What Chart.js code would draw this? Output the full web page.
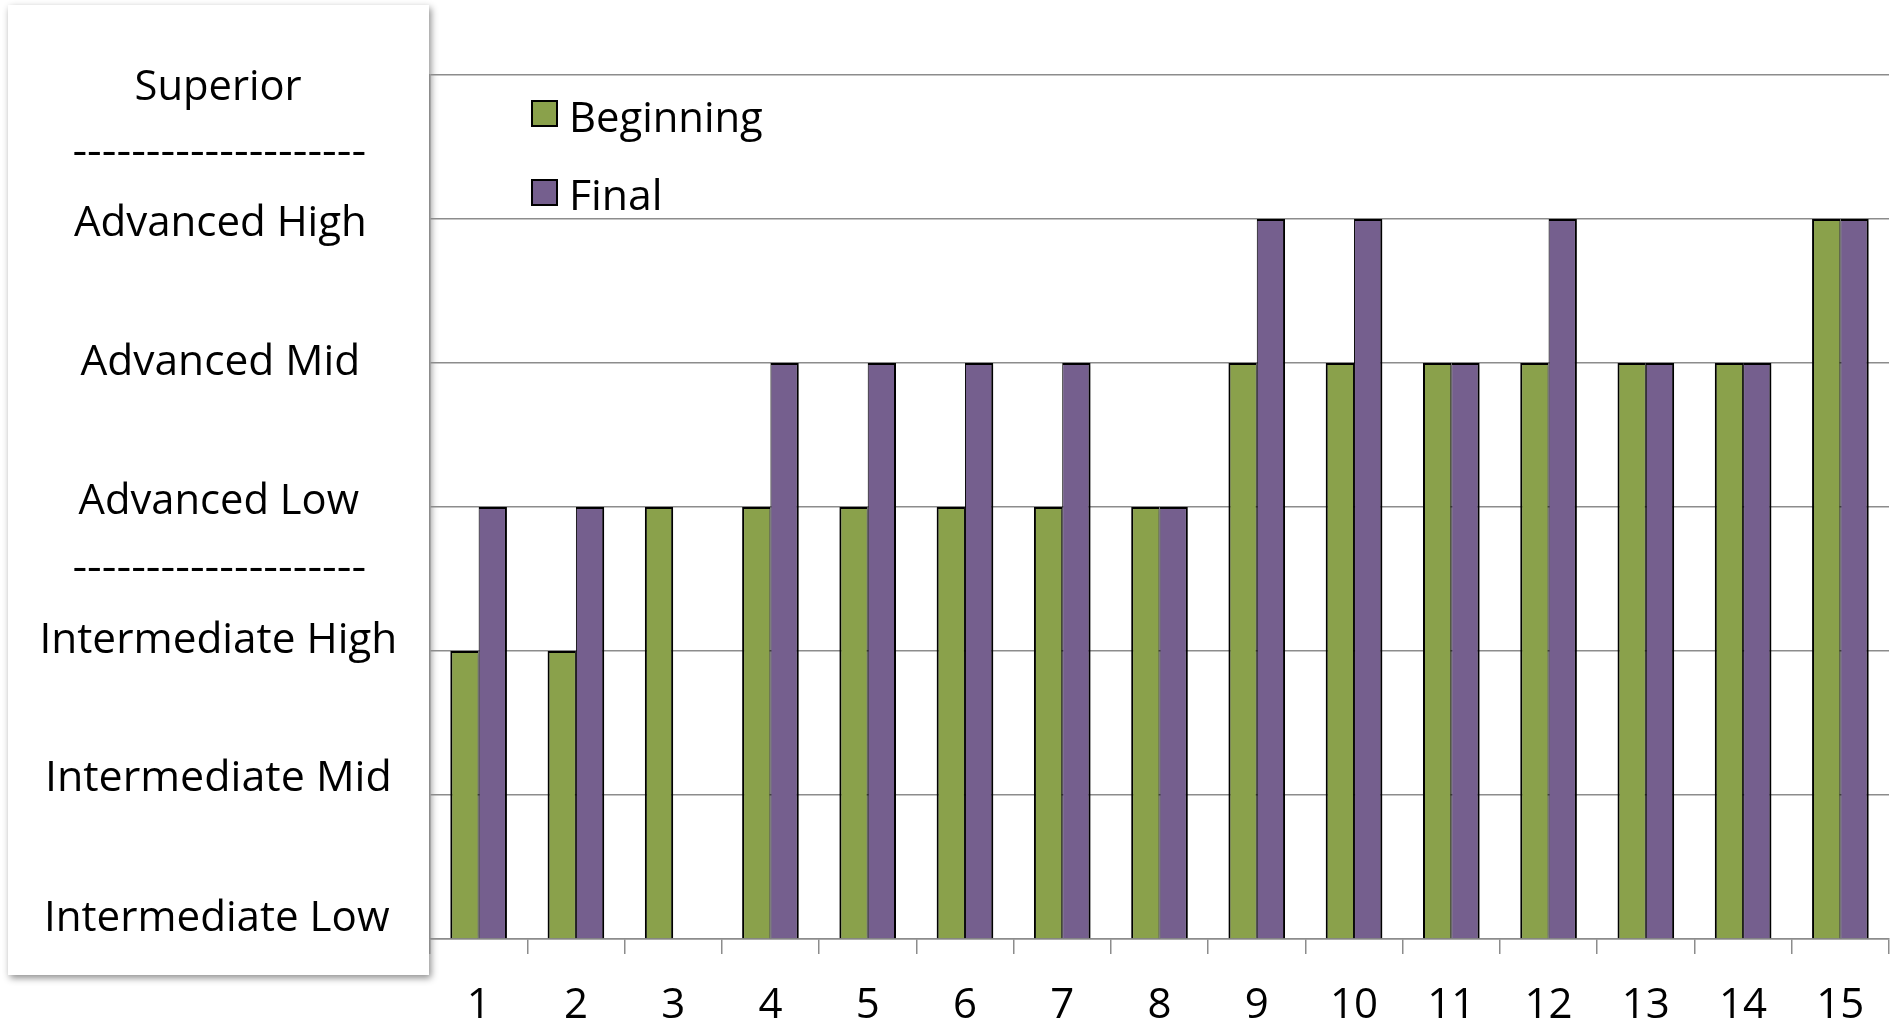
<!DOCTYPE html>
<html>
<head>
<meta charset="utf-8">
<script src="https://cdn.jsdelivr.net/npm/chart.js@4/dist/chart.umd.min.js"></script>
<style>
  html, body { margin: 0; padding: 0; background: #ffffff; }
  canvas { display: block; }
</style>
</head>
<body>
<canvas id="chart" width="1898" height="1029"></canvas>
<script>
// Students along the x axis
const students = ['1', '2', '3', '4', '5', '6', '7', '8', '9', '10', '11', '12', '13', '14', '15'];

// Proficiency levels, lowest first (value 0 = Intermediate Low)
const levelLabels = ['Intermediate Low', 'Intermediate Mid', 'Intermediate High',
                     'Advanced Low', 'Advanced Mid', 'Advanced High', 'Superior'];

// Series names and level reached by each student
const seriesNames = ['Beginning', 'Final'];
const beginning = [2, 2, 3, 3, 3, 3, 3, 3, 4, 4, 4, 4, 4, 4, 5];
const final     = [3, 3, null, 4, 4, 4, 4, 3, 5, 5, 4, 5, 4, 4, 5];

// ---- styling ----
const FONT = '"Open Sans", "Liberation Sans", sans-serif';
const GRID = '#8c8c8c';
const GREEN = '#8AA14B';
const PURPLE = '#755F8E';

// Level panel on the left: text rows (label or separator), baseline/centre y and ink width
const DASHES = '--------------------';
const panelRows = [
  { text: levelLabels[6], y: 100, w: 165 },
  { text: DASHES, yc: 153, w: 291 },
  { text: levelLabels[5], y: 236, w: 290 },
  { text: levelLabels[4], y: 375, w: 277 },
  { text: levelLabels[3], y: 514, w: 281 },
  { text: DASHES, yc: 569, w: 291 },
  { text: levelLabels[2], y: 653, w: 351 },
  { text: levelLabels[1], y: 791, w: 340 },
  { text: levelLabels[0], y: 931, w: 342 }
];
const PANEL = { x: 8, y: 5, w: 421, h: 970, cx: 219 };

function drawScaledText(ctx, text, x, baseline, inkWidth, centred) {
  const m = ctx.measureText(text);
  const ink = m.actualBoundingBoxLeft + m.actualBoundingBoxRight;
  const sx = inkWidth / ink;
  // offset of the ink box relative to the drawing origin
  const shift = centred ? (m.actualBoundingBoxRight - m.actualBoundingBoxLeft) / 2 : -m.actualBoundingBoxLeft;
  ctx.save();
  ctx.translate(x, baseline);
  ctx.scale(sx, 1);
  ctx.fillText(text, -shift, 0);
  ctx.restore();
}

const levelPanel = {
  id: 'levelPanel',
  beforeDraw(chart) {
    const ctx = chart.ctx;
    ctx.save();
    ctx.shadowColor = 'rgba(0,0,0,0.45)';
    ctx.shadowBlur = 7;
    ctx.shadowOffsetX = 2;
    ctx.shadowOffsetY = 3;
    ctx.fillStyle = '#ffffff';
    ctx.fillRect(PANEL.x, PANEL.y, PANEL.w, PANEL.h);
    ctx.restore();

    ctx.save();
    ctx.fillStyle = '#000000';
    ctx.font = '42px ' + FONT;
    ctx.textAlign = 'left';
    ctx.textBaseline = 'alphabetic';
    panelRows.forEach(r => {
      let base = r.y;
      if (base === undefined) {
        const m = ctx.measureText(r.text);
        base = r.yc - (m.actualBoundingBoxDescent - m.actualBoundingBoxAscent) / 2;
      }
      drawScaledText(ctx, r.text, PANEL.cx, base, r.w, true);
    });
    ctx.restore();
  }
};

// Bar shadows
const barShadow = {
  id: 'barShadow',
  beforeDatasetsDraw(chart) {
    const ctx = chart.ctx;
    ctx.save();
    ctx.shadowColor = 'rgba(0,0,0,0.30)';
    ctx.shadowBlur = 4;
    ctx.shadowOffsetX = 1;
    ctx.shadowOffsetY = 1;
  },
  afterDatasetsDraw(chart) {
    chart.ctx.restore();
  }
};

// Legend inside the plot area, one entry per row
const innerLegend = {
  id: 'innerLegend',
  afterDraw(chart) {
    const ctx = chart.ctx;
    const boxX = 531, boxSize = 27;
    const rows = [{ top: 100, base: 132, w: 189 }, { top: 179, base: 210, w: 87 }];
    ctx.save();
    ctx.font = '42px ' + FONT;
    ctx.textAlign = 'left';
    ctx.textBaseline = 'alphabetic';
    chart.data.datasets.forEach((ds, i) => {
      const r = rows[i];
      ctx.fillStyle = ds.backgroundColor;
      ctx.fillRect(boxX, r.top, boxSize, boxSize);
      ctx.strokeStyle = '#000000';
      ctx.lineWidth = 2;
      ctx.strokeRect(boxX + 1, r.top + 1, boxSize - 2, boxSize - 2);
      ctx.fillStyle = '#000000';
      drawScaledText(ctx, ds.label, 573, r.base, r.w, false);
    });
    ctx.restore();
  }
};

new Chart(document.getElementById('chart'), {
  type: 'bar',
  data: {
    labels: students,
    datasets: [
      {
        label: seriesNames[0],
        data: beginning,
        backgroundColor: GREEN,
        borderColor: '#000000',
        borderWidth: c => ({ top: 2, left: 2, bottom: 0, right: final[c.dataIndex] == null ? 2 : 1 }),
        borderSkipped: 'start',
        categoryPercentage: 0.582,
        barPercentage: 1.0
      },
      {
        label: seriesNames[1],
        data: final,
        backgroundColor: PURPLE,
        borderColor: '#000000',
        borderWidth: { top: 2, left: 1, bottom: 0, right: 2 },
        borderSkipped: 'start',
        categoryPercentage: 0.582,
        barPercentage: 1.0
      }
    ]
  },
  options: {
    responsive: false,
    animation: false,
    events: [],
    layout: { padding: { left: 430, top: 75, right: 9, bottom: 0 } },
    plugins: {
      legend: { display: false },
      tooltip: { enabled: false }
    },
    scales: {
      x: {
        offset: true,
        grid: {
          display: true,
          drawOnChartArea: false,
          drawTicks: true,
          tickLength: 15,
          color: GRID,
          lineWidth: 1.5,
          offset: true
        },
        border: { display: true, color: GRID, width: 1.5 },
        ticks: {
          color: '#000000',
          font: { family: FONT, size: 42 },
          padding: 27,
          maxRotation: 0,
          autoSkip: false
        },
        afterFit(scale) { scale.height = 90; }
      },
      y: {
        min: 0,
        max: levelLabels.length - 1,
        ticks: { display: false, stepSize: 1 },
        grid: { color: GRID, lineWidth: 1.5, drawTicks: false },
        border: { display: true, color: GRID, width: 1.5 },
        afterFit(scale) { scale.width = 0; }
      }
    }
  },
  plugins: [levelPanel, barShadow, innerLegend]
});
</script>
</body>
</html>
